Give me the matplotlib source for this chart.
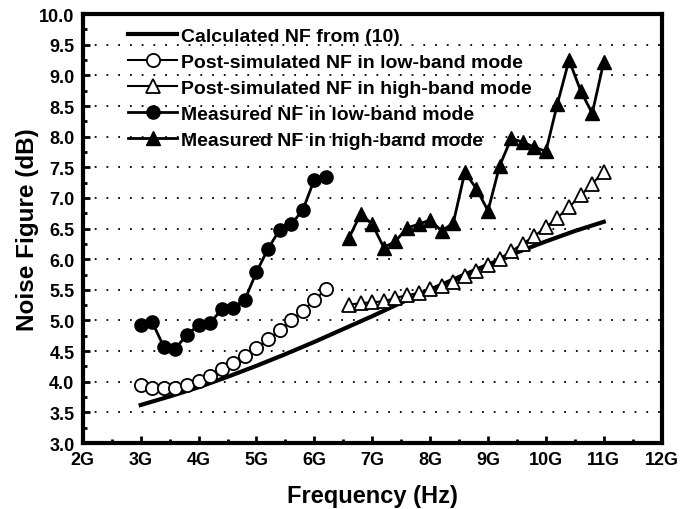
import numpy as np
import matplotlib
matplotlib.use('Agg')
import matplotlib.pyplot as plt
from matplotlib.ticker import MultipleLocator, FixedLocator

plt.rcParams['font.family'] = ['Liberation Sans', 'DejaVu Sans']

# calculated NF from (10)
calc_f = [3.0, 3.5, 4.0, 4.5, 5.0, 5.5, 6.0, 6.5, 7.0, 7.5, 8.0, 8.5, 9.0, 9.5, 10.0, 10.5, 11.0]
calc_nf = [3.62, 3.76, 3.91, 4.08, 4.26, 4.45, 4.65, 4.86, 5.07, 5.29, 5.50, 5.71, 5.91, 6.11, 6.29, 6.46, 6.61]

# post-simulated, low band
sim_low_f = [3.0, 3.2, 3.4, 3.6, 3.8, 4.0, 4.2, 4.4, 4.6, 4.8, 5.0, 5.2, 5.4, 5.6, 5.8, 6.0, 6.2]
sim_low_nf = [3.94, 3.89, 3.89, 3.90, 3.94, 4.01, 4.09, 4.20, 4.30, 4.42, 4.55, 4.69, 4.84, 5.00, 5.16, 5.33, 5.51]

# post-simulated, high band
sim_high_f = [6.6, 6.8, 7.0, 7.2, 7.4, 7.6, 7.8, 8.0, 8.2, 8.4, 8.6, 8.8, 9.0, 9.2, 9.4, 9.6,
              9.8, 10.0, 10.2, 10.4, 10.6, 10.8, 11.0]
sim_high_nf = [5.26, 5.28, 5.30, 5.31, 5.37, 5.41, 5.45, 5.51, 5.56, 5.62, 5.72, 5.80, 5.90, 6.01,
               6.13, 6.25, 6.38, 6.52, 6.68, 6.85, 7.04, 7.23, 7.43]

# measured, low band
meas_low_f = [3.0, 3.2, 3.4, 3.6, 3.8, 4.0, 4.2, 4.4, 4.6, 4.8, 5.0, 5.2, 5.4, 5.6, 5.8, 6.0, 6.2]
meas_low_nf = [4.92, 4.97, 4.57, 4.54, 4.77, 4.92, 4.96, 5.18, 5.21, 5.34, 5.79, 6.17, 6.48, 6.57,
               6.80, 7.30, 7.34]

# measured, high band
meas_high_f = [6.6, 6.8, 7.0, 7.2, 7.4, 7.6, 7.8, 8.0, 8.2, 8.4, 8.6, 8.8, 9.0, 9.2, 9.4, 9.6,
               9.8, 10.0, 10.2, 10.4, 10.6, 10.8, 11.0]
meas_high_nf = [6.35, 6.74, 6.57, 6.19, 6.29, 6.51, 6.57, 6.64, 6.46, 6.59, 7.42, 7.15, 6.79, 7.52,
                7.97, 7.91, 7.83, 7.76, 8.54, 9.25, 8.75, 8.38, 9.22]

x_ticks = [2, 3, 4, 5, 6, 7, 8, 9, 10, 11, 12]
x_labels = ['2G', '3G', '4G', '5G', '6G', '7G', '8G', '9G', '10G', '11G', '12G']

fig = plt.figure(figsize=(6.81, 5.10), dpi=100)
ax = fig.add_axes([0.1216, 0.1294, 0.850, 0.841])

ax.plot(calc_f, calc_nf, color='black', lw=3.0, label='Calculated NF from (10)', zorder=3)
ax.plot(sim_low_f, sim_low_nf, color='black', lw=1.5, marker='o', ms=9.5, mfc='white',
        mec='black', mew=1.3, label='Post-simulated NF in low-band mode', zorder=4)
ax.plot(sim_high_f, sim_high_nf, color='black', lw=1.5, marker='^', ms=10, mfc='white',
        mec='black', mew=1.3, label='Post-simulated NF in high-band mode', zorder=4)
ax.plot(meas_low_f, meas_low_nf, color='black', lw=2.0, marker='o', ms=9.5, mfc='black',
        mec='black', label='Measured NF in low-band mode', zorder=4)
ax.plot(meas_high_f, meas_high_nf, color='black', lw=2.0, marker='^', ms=10, mfc='black',
        mec='black', label='Measured NF in high-band mode', zorder=4)

ax.set_xlim(2, 12)
ax.set_ylim(3.0, 10.0)
ax.xaxis.set_major_locator(FixedLocator(x_ticks))
ax.set_xticklabels(x_labels)
ax.xaxis.set_minor_locator(MultipleLocator(0.5))
ax.yaxis.set_major_locator(MultipleLocator(0.5))
ax.yaxis.set_minor_locator(MultipleLocator(0.25))
ax.yaxis.set_major_formatter(matplotlib.ticker.FormatStrFormatter('%.1f'))

ax.yaxis.grid(True, which='major', color='black', linestyle=(0, (1, 5.5)), lw=1.3)
ax.set_axisbelow(True)

for s in ax.spines.values():
    s.set_linewidth(3)
ax.tick_params(which='both', direction='in', width=2, labelsize=13)
ax.tick_params(which='major', length=5, pad=6)
ax.tick_params(which='minor', length=3)
for lab in ax.get_xticklabels() + ax.get_yticklabels():
    lab.set_fontweight('bold')

ax.set_xlabel('Frequency (Hz)', fontsize=17, fontweight='bold', labelpad=11)
ax.set_ylabel('Noise Figure (dB)', fontsize=17.5, fontweight='bold', labelpad=0)

leg = ax.legend(loc='upper left', bbox_to_anchor=(0.065, 0.987), frameon=False,
                prop={'size': 14, 'weight': 'bold'}, handlelength=2.5, handletextpad=0.22,
                labelspacing=0.43, borderaxespad=0)

fig.savefig('out.png', dpi=100)
